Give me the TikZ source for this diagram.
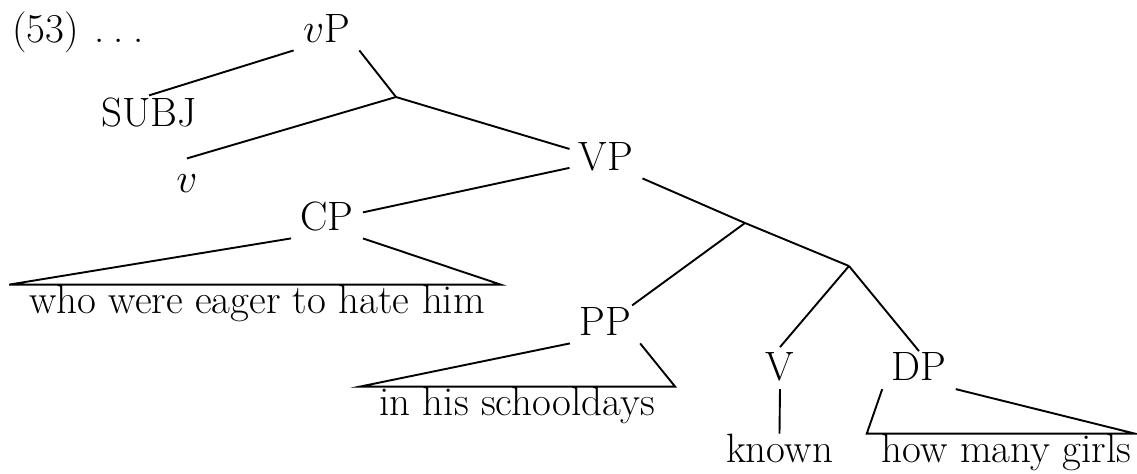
\documentclass[tikz,border=0pt]{standalone}
\usetikzlibrary{calc}
\begin{document}
\begin{tikzpicture}[x=0.5pt,y=-0.5pt,
  every node/.style={font=\fontsize{20.5}{24}\selectfont},
  cat/.style={anchor=base, inner xsep=4.5pt, inner ysep=4pt, text height=12.6pt, text depth=0pt},
  phrase/.style={anchor=base, inner xsep=0pt, inner ysep=1pt, text height=13pt, text depth=0pt},
  branch/.style={line width=0.95pt, line join=miter},
]
\useasboundingbox (0,0) rectangle (1137,473);

% example number
\node[anchor=base west, inner sep=0pt] (ex) at (12,42) {(53)\kern0.38em.\kern0.22em.\kern0.22em.};

% category labels
\node[cat] (vP)   at (326.5,42)  {$v$P};
\node[cat] (SUBJ) at (149,126)   {SUBJ};
\node[cat] (v)    at (187,192)   {$v$};
\node[cat] (VP)   at (606,170)   {VP};
\node[cat] (CP)   at (327,230)   {CP};
\node[cat] (PP)   at (605,335)   {PP};
\node[cat] (V)    at (780,380.7) {V};
\node[cat] (DP)   at (919,380.7) {DP};

% terminal strings
\node[phrase] (CPtext) at (257,313)    {who were eager to hate him};
\node[phrase] (PPtext) at (517,415)    {in his schooldays};
\node[phrase] (known)  at (779.5,462)  {known};
\node[phrase] (DPtext) at (1006.5,462) {how many girls};

% unlabelled branching points
\coordinate (j1) at (396,97);
\coordinate (j2) at (745,223);
\coordinate (j3) at (849,266);

% branches
\draw[branch] (vP.south west) -- ([yshift=-1.5pt]SUBJ.north);
\draw[branch] (vP.south east) -- (j1);
\draw[branch] (j1) -- (v.north);
\draw[branch] (j1) -- (VP.167);
\draw[branch] (VP.196) -- (CP.8);
\draw[branch] (VP.south east) -- (j2);
\draw[branch] (j2) -- ([shift={(-4pt,-2pt)}]PP.north east);
\draw[branch] (j2) -- (j3);
\draw[branch] (j3) -- (V.north);
\draw[branch] (j3) -- ([yshift=-2pt]DP.north);
\draw[branch] (V.south) -- (known.north);

% triangles over unanalysed phrases
\draw[branch] (CP.south west) -- ([xshift=-9.75pt]CPtext.north west)
  -- ([xshift=7.75pt]CPtext.north east) -- (CP.south east);
\draw[branch] (PP.south west) -- ([xshift=-9.5pt]PPtext.north west)
  -- ([xshift=10pt]PPtext.north east) -- (PP.south east);
\draw[branch] (DP.south west) -- ([xshift=-7.25pt]DPtext.north west)
  -- ([xshift=1.6pt]DPtext.north east) -- (DP.south east);
\end{tikzpicture}
\end{document}
